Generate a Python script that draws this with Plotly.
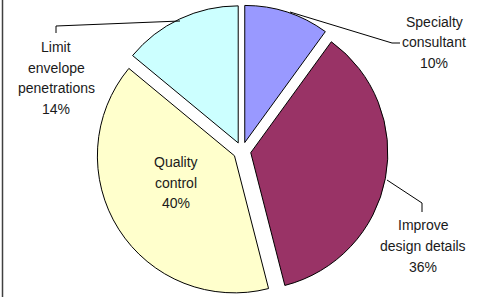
import plotly.graph_objects as go

# ---- data ----
categories = ["Specialty consultant", "Improve design details", "Quality control", "Limit envelope penetrations"]
values = [10, 36, 40, 14]
label_lines = [["Specialty", "consultant"], ["Improve", "design details"], ["Quality", "control"], ["Limit", "envelope", "penetrations"]]
colors = ["#9999FF", "#993366", "#FFFFCC", "#CCFFFF"]

W, H = 478, 297


def px(x):
    return x / W


def py(y):
    return 1 - y / H


total = sum(values)
pcts = [f"{round(v / total * 100)}%" for v in values]

fig = go.Figure(
    go.Pie(
        labels=categories,
        values=values,
        sort=False,
        direction="clockwise",
        rotation=0,
        pull=[0.065] * len(values),
        marker=dict(colors=colors, line=dict(color="#000000", width=1)),
        textinfo="none",
        hoverinfo="label+percent",
        showlegend=False,
        domain=dict(x=[px(242 - 160), px(242 + 160)], y=[0, py(5)]),
    )
)

# label positions (centre x, first-line y, line spacing) in pixels
label_pos = [(434, 22, 20.5), (423, 225, 20.8), (176, 162, 20.5), (56, 47, 20.7)]

annotations = []
for lines, pct, (cx, y0, dy) in zip(label_lines, pcts, label_pos):
    for k, t in enumerate(lines + [pct]):
        annotations.append(
            dict(
                x=px(cx), y=py(y0 + k * dy), xref="paper", yref="paper",
                text=t, showarrow=False, xanchor="center", yanchor="middle",
                font=dict(family="Liberation Sans, Arial, sans-serif", size=14, color="#1a1a1a"),
            )
        )

leaders = [
    [(290, 12), (392, 43), (400, 43)],
    [(387, 180), (422, 203), (422, 212)],
    [(180, 21), (56, 26), (56, 33)],
]
shapes = []
for pts in leaders:
    for (x0, y0), (x1, y1) in zip(pts[:-1], pts[1:]):
        shapes.append(dict(type="line", xref="paper", yref="paper",
                           x0=px(x0), y0=py(y0), x1=px(x1), y1=py(y1),
                           line=dict(color="#000000", width=1)))
# chart frame left edge
shapes.append(dict(type="line", xref="paper", yref="paper",
                   x0=px(2.5), y0=0, x1=px(2.5), y1=1,
                   line=dict(color="#404040", width=1.5)))

fig.update_layout(
    width=W, height=H,
    margin=dict(l=0, r=0, t=0, b=0),
    paper_bgcolor="white", plot_bgcolor="white",
    annotations=annotations, shapes=shapes,
)

fig.write_html(
    "out.html",
    config={"displayModeBar": False},
    post_script="document.body.style.margin='0';document.body.style.overflow='hidden';",
)
